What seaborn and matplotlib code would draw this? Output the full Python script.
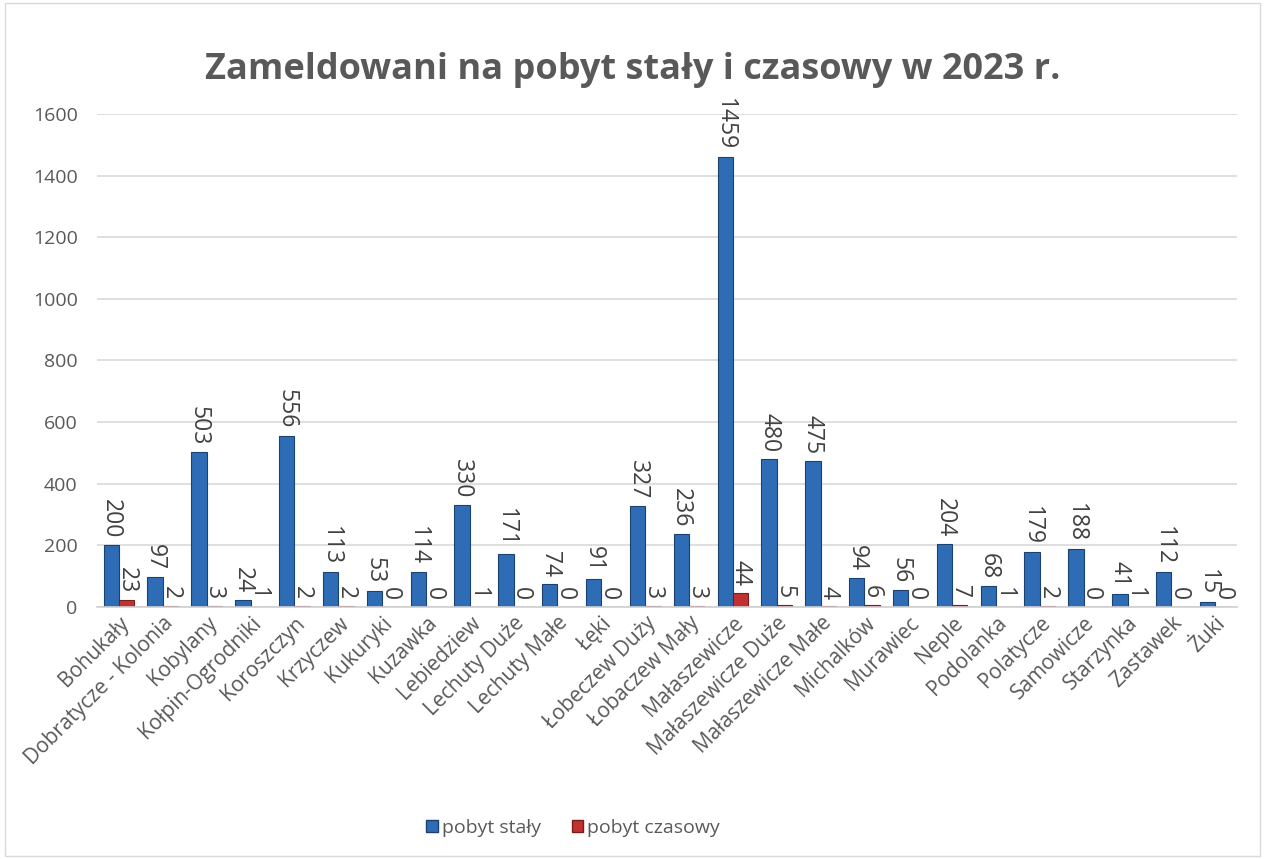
import matplotlib
matplotlib.use("Agg")
import matplotlib.pyplot as plt
import seaborn as sns
import pandas as pd
from matplotlib.patches import Rectangle

categories = ["Bohukały", "Dobratycze - Kolonia", "Kobylany", "Kołpin-Ogrodniki", "Koroszczyn",
              "Krzyczew", "Kukuryki", "Kuzawka", "Lebiedziew", "Lechuty Duże", "Lechuty Małe",
              "Łęki", "Łobeczew Duży", "Łobaczew Mały", "Małaszewicze", "Małaszewicze Duże",
              "Małaszewicze Małe", "Michalków", "Murawiec", "Neple", "Podolanka", "Polatycze",
              "Samowicze", "Starzynka", "Zastawek", "Żuki"]
pobyt_staly = [200, 97, 503, 24, 556, 113, 53, 114, 330, 171, 74, 91, 327, 236, 1459, 480,
               475, 94, 56, 204, 68, 179, 188, 41, 112, 15]
pobyt_czasowy = [23, 2, 3, 1, 2, 2, 0, 0, 1, 0, 0, 0, 3, 3, 44, 5, 4, 6, 0, 7, 1, 2, 0, 1, 0, 0]
series_names = ["pobyt stały", "pobyt czasowy"]
title = "Zameldowani na pobyt stały i czasowy w 2023 r."

df = pd.DataFrame({
    "cat": categories * 2,
    "val": pobyt_staly + pobyt_czasowy,
    "series": [series_names[0]] * len(categories) + [series_names[1]] * len(categories),
})

sns.set_theme(style="white")
plt.rcParams["font.family"] = ["Open Sans", "DejaVu Sans"]

fig = plt.figure(figsize=(12.65, 8.59), dpi=100)
ax = fig.add_axes([0.0767, 0.2934, 0.9013, 0.5739])

text_col = "#595959"
sns.barplot(data=df, x="cat", y="val", hue="series", ax=ax, width=0.7,
            palette=["#2E6DB5", "#C0322F"], edgecolor=None, linewidth=0, saturation=1,
            errorbar=None)
edge_cols = ["#1B416E", "#7A1C1A"]
for i, cont in enumerate(ax.containers):
    for p in cont:
        p.set_edgecolor(edge_cols[i])
        p.set_linewidth(0.8)
    ax.bar_label(cont, labels=[str(v) for v in (pobyt_staly if i == 0 else pobyt_czasowy)],
                 rotation=-90, padding=5, fontsize=16.5, color="#404040")

ax.set_ylim(0, 1600)
ax.set_yticks(range(0, 1601, 200))
ax.yaxis.grid(True, color="#D9D9D9", linewidth=1.2)
ax.set_axisbelow(True)
for s in ["top", "right", "left"]:
    ax.spines[s].set_visible(False)
ax.spines["bottom"].set_color("#D0D0D0")
ax.spines["bottom"].set_linewidth(1.2)
ax.set_xlim(-0.5, len(categories) - 0.5)
ax.set_xlabel("")
ax.set_ylabel("")
ax.tick_params(axis="y", labelsize=14, colors=text_col, length=0, pad=14)
ax.tick_params(axis="x", labelsize=15, colors=text_col, length=0, pad=4)
plt.setp(ax.get_xticklabels(), rotation=45, ha="right", rotation_mode="anchor")

ax.legend_.remove()
handles = [Rectangle((0, 0), 1, 1, facecolor="#2E6DB5", edgecolor="#1B416E"),
           Rectangle((0, 0), 1, 1, facecolor="#C0322F", edgecolor="#7A1C1A")]
fig.legend(handles, series_names, loc="center", bbox_to_anchor=(0.453, 0.036), ncol=2,
           frameon=False, fontsize=14, handlelength=0.6, handleheight=0.6,
           handletextpad=0.2, columnspacing=1.6, labelcolor=text_col)

fig.text(0.5, 0.918, title, ha="center", va="center", fontsize=26, fontweight="bold",
         color=text_col)

fig.add_artist(Rectangle((0.004, 0.004), 0.992, 0.992, transform=fig.transFigure,
                         fill=False, edgecolor="#D9D9D9", linewidth=1))

fig.savefig("out.png", dpi=100)
